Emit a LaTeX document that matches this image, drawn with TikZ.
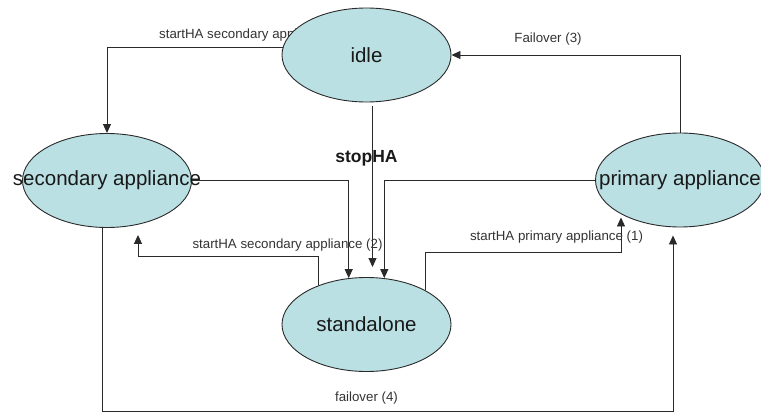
\documentclass[tikz,border=0pt]{standalone}
\usepackage{fontspec}
\setmainfont{Liberation Sans}
\usetikzlibrary{shapes.geometric,arrows.meta,calc}
\definecolor{statefill}{HTML}{BAE0E3}
\definecolor{linecol}{HTML}{2A2A2A}
\tikzset{
  state/.style={ellipse, draw=linecol, line width=0.9pt, fill=statefill,
    minimum width=169pt, minimum height=94pt, inner sep=0pt,
    font=\fontsize{20.5}{24}\selectfont, text=black!90},
  arr/.style={draw=linecol, line width=0.9pt, -{Triangle[length=9pt,width=8pt]}},
  lbl/.style={font=\fontsize{13.3}{16}\selectfont, text=black!80, inner sep=0pt},
  boldlbl/.style={font=\bfseries\fontsize{17.5}{20}\selectfont, text=black!90, inner sep=0pt}
}
\begin{document}
\begin{tikzpicture}[x=1pt,y=-1pt]
\useasboundingbox (0,0) rectangle (761,412);
% label partly hidden behind the idle state
\node[lbl, anchor=west] (l0) at (159,35) {startHA secondary appliance};
% states
\node[state] (idle)  at (366.5,55)  {\makebox[0pt]{idle}};
\node[state] (sec)   at (107,180.5) {\makebox[0pt]{secondary appliance}};
\node[state] (prim)  at (680,180)   {\makebox[0pt]{primary appliance}};
\node[state] (stand) at (366.5,324.5) {\makebox[0pt]{standalone}};
% free ends
\coordinate (t2) at ($(sec.south)+(31,7)$);
\coordinate (t1) at ($(prim.south)+(-59,-10)$);
\coordinate (t4) at ($(prim.south)+(-7,8)$);
\coordinate (s0) at ($(idle.south)+(6,4)$);
\coordinate (t0) at ($(stand.north)+(6,-10)$);
% connectors
\draw[arr] (idle.175) -| (sec.north);
\draw[arr] (prim.north) |- (idle.east);
\draw[arr] (s0) -- (t0);
\draw[arr] (sec.east) -| (stand.111);
\draw[arr] (prim.west) -| (stand.69);
\draw[arr] (stand.141) |- ($(t2)+(0,21)$) -- (t2);
\draw[arr] (stand.30) |- ($(t1)+(0,35)$) -- (t1);
\draw[arr] (sec.265) |- ($(t4)+(0,176)$) -- (t4);
% labels
\node[lbl] (l1) at (548,39) {Failover (3)};
\node[boldlbl] (l2) at (366.5,158) {stopHA};
\node[lbl] (l3) at (287.5,245) {startHA secondary appliance (2)};
\node[lbl] (l4) at (556.5,237) {startHA primary appliance (1)};
\node[lbl] (l5) at (366.5,398) {failover (4)};
\end{tikzpicture}
\end{document}
